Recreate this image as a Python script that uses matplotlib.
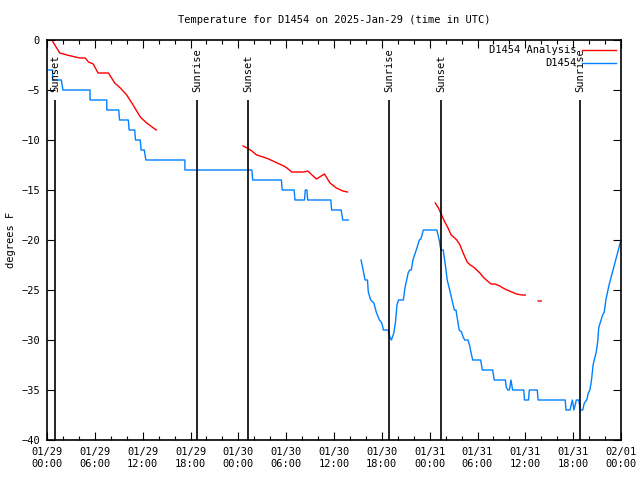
import numpy as np
import matplotlib
matplotlib.use("Agg")
import matplotlib.pyplot as plt
import matplotlib.dates as mdates

#-----------------------------------------------------------------------------------------------------------------------
# data : hours since 2025-01-29 00:00 UTC, temperature in F  (nan = gap)
base = np.datetime64("2025-01-29T00:00")

obs_hours = [0.17, 0.7, 0.7, 1.8, 2.0, 5.4, 5.4, 7.5, 7.5, 9.0, 9.1, 10.2, 10.3, 11.0, 11.1, 11.7, 11.8, 12.2, 12.4,
             17.3, 17.3, 25.7, 25.8, 29.4, 29.5, 31.0, 31.1, 32.3, 32.4, 32.6, 32.7, 35.6, 35.7, 36.9, 37.1, 37.8,
             np.nan,
             39.4, 39.7, 39.9, 40.2, 40.3, 40.6, 41.0, 41.3, 41.7, 42.0, 42.2, 42.8, 43.0, 43.2, 43.5, 43.7, 43.9,
             44.1, 44.7, 44.9, 45.3, 45.5, 45.7, 45.9, 46.4, 46.7, 46.9, 47.2, 48.9, 49.2, 49.4, 49.7, 50.0, 50.2,
             50.6, 50.8, 51.1, 51.3, 51.5, 51.7, 52.0, 52.2, 52.4, 52.8, 53.0, 53.2, 53.4, 54.4, 54.6, 55.9, 56.1,
             57.5, 57.6, 57.8, 58.0, 58.2, 58.4, 59.8, 59.9, 60.4, 60.5, 61.5, 61.6, 65.0, 65.1, 65.6, 65.9, 66.1,
             66.4, 66.7, 66.9, 67.2, 67.4, 67.7, 67.9, 68.1, 68.3, 68.5, 68.7, 68.9, 69.1, 69.2, 69.5, 69.7, 69.9,
             70.1, 70.5, 71.0, 71.5, 72.0]
obs_temps = [-3, -3, -4, -4, -5, -5, -6, -6, -7, -7, -8, -8, -9, -9, -10, -10, -11, -11, -12,
             -12, -13, -13, -14, -14, -15, -15, -16, -16, -15, -15, -16, -16, -17, -17, -18, -18,
             np.nan,
             -22, -23.2, -24, -24, -25.2, -26, -26.3, -27.2, -28, -28.3, -29, -29, -29.7, -30, -29.3, -28.3, -26.5,
             -26, -26, -24.8, -23.3, -23, -23, -22, -20.8, -20, -19.9, -19, -19, -20, -21, -21, -22.7, -24,
             -25.3, -26, -27, -27, -28, -29, -29.2, -29.7, -30, -30, -30.5, -31.3, -32, -32, -33, -33, -34,
             -34, -34.7, -35, -35, -34, -35, -35, -36, -36, -35, -35, -36, -36, -37, -37, -36, -37,
             -36, -36, -37, -37, -36.3, -36, -35.3, -35, -34, -32.5, -31.8, -31.2, -30, -28.8, -28, -27.5, -27.2,
             -26, -24.5, -23, -21.5, -20]

ana_hours = [0.6, 1.6, 2.5, 4.1, 4.8, 5.2, 5.8, 6.4, 7.7, 8.5, 9.2, 10.0, 10.8, 11.7, 12.5, 13.7,
             np.nan,
             24.6, 25.1, 25.7, 26.3, 27.1, 27.8, 28.6, 29.7, 30.1, 30.7, 32.2, 32.7, 33.8, 34.8, 35.5, 36.3,
             37.1, 37.7,
             np.nan,
             48.7, 49.1, 49.5, 49.9, 50.3, 50.7, 51.0, 51.4, 51.8, 52.2, 52.7, 53.1, 53.5, 53.9, 54.3, 54.7,
             55.1, 55.7, 56.2, 56.8, 57.2, 57.7, 58.3, 58.9, 59.6, 60.0,
             np.nan,
             61.6, 62.0]
ana_temps = [0.0, -1.3, -1.5, -1.8, -1.8, -2.2, -2.4, -3.3, -3.3, -4.3, -4.8, -5.5, -6.5, -7.7, -8.3, -9.0,
             np.nan,
             -10.6, -10.8, -11.1, -11.5, -11.7, -11.9, -12.2, -12.6, -12.8, -13.2, -13.2, -13.1, -13.9, -13.4,
             -14.3, -14.8, -15.1, -15.2,
             np.nan,
             -16.3, -16.8, -17.5, -18.2, -18.8, -19.5, -19.7, -20.0, -20.5, -21.3, -22.2, -22.5, -22.7, -23.0,
             -23.3, -23.7, -24.0, -24.4, -24.4, -24.6, -24.8, -25.0, -25.2, -25.4, -25.5, -25.5,
             np.nan,
             -26.1, -26.1]

sun_hours = [1.0, 18.83, 25.22, 42.92, 49.43, 66.88]
sun_names = ["Sunset", "Sunrise", "Sunset", "Sunrise", "Sunset", "Sunrise"]

#-----------------------------------------------------------------------------------------------------------------------
def ToNum(hours):
    h = np.asarray(hours, dtype=float)
    return mdates.date2num(np.datetime64(base, "m").astype(object)) + h / 24.0

plt.rcParams["font.family"] = ["DejaVu Sans Mono"]
plt.rcParams["font.size"] = 7.5

fig = plt.figure(figsize=(6.4, 4.8), dpi=100)
ax = fig.add_axes([47/640, 40/480, 574/640, 400/480])

ax.plot(ToNum(ana_hours), ana_temps, color="#ff0000", lw=1, label="D1454 Analysis")
ax.plot(ToNum(obs_hours), obs_temps, color="#0080ff", lw=1, label="D1454")

for h, name in zip(sun_hours, sun_names):
    x = ToNum([h])[0]
    ax.vlines(x, -40, -6.0, color="black", lw=1.2)
    ax.text(x, -5.2, name, rotation=90, ha="center", va="bottom", fontsize=7.5)

ax.set_xlim(ToNum([0])[0], ToNum([72])[0])
ax.set_ylim(-40, 0)
ax.set_yticks(np.arange(-40, 1, 5))
ax.xaxis.set_major_locator(mdates.HourLocator(byhour=range(0, 24, 6)))
ax.xaxis.set_minor_locator(mdates.HourLocator(byhour=range(0, 24, 2)))
ax.xaxis.set_major_formatter(mdates.DateFormatter("%m/%d\n%H:%M"))
ax.tick_params(which="both", direction="in", top=True, right=True, labelsize=7.5, width=0.8)
ax.tick_params(which="major", length=6, pad=5)
ax.tick_params(which="minor", length=3)
for s in ax.spines.values():
    s.set_linewidth(1.2)

ax.set_ylabel("degrees F", fontsize=7.5, labelpad=4)
ax.set_title("Temperature for D1454 on 2025-Jan-29 (time in UTC)", fontsize=7.5, pad=12)
ax.legend(loc="upper right", frameon=False, markerfirst=False, handlelength=3.2, fontsize=7.5,
          borderaxespad=0.1, labelspacing=0.3, handletextpad=0.6)

fig.savefig("out.png", dpi=100)
